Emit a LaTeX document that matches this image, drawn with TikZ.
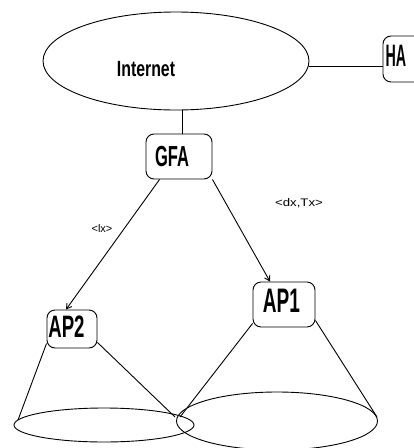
\documentclass[tikz,border=0pt]{standalone}
\usepackage{fontspec}
\setmainfont{Liberation Sans}
\usetikzlibrary{shapes.geometric,arrows.meta}
\newcommand{\bigtxt}[3]{\fontsize{#1}{#1}\selectfont\bfseries\scalebox{#2}[1]{#3}}
\begin{document}
\begin{tikzpicture}[x=1pt,y=-1pt,line width=0.9pt,
  box/.style={draw,rounded corners=8pt,inner sep=0pt},
  oval/.style={draw,ellipse,inner sep=0pt},
  txt/.style={inner sep=0pt,anchor=center},
  small/.style={inner sep=0pt,font=\fontsize{11}{11}\selectfont},
  arr/.style={-{Straight Barb[length=5pt,width=6pt]}}]
\useasboundingbox (0,0) rectangle (414,448);
% main nodes
\node[oval,minimum width=266pt,minimum height=98pt] (inet) at (176,61) {};
\node[txt] (inettext) at (146,69) {\bigtxt{22}{0.72}{Internet}};
\node[box,minimum width=50pt,minimum height=46pt] (ha) at (408,59) {};
\node[txt] (hatext) at (396,56) {\bigtxt{31}{0.46}{HA}};
\node[box,minimum width=66pt,minimum height=45pt] (gfa) at (179,156.5) {};
\node[txt] (gfatext) at (172,157) {\bigtxt{29}{0.57}{GFA}};
\node[box,minimum width=50pt,minimum height=38pt] (ap2) at (72,329) {};
\node[txt] (ap2text) at (66.5,327) {\bigtxt{31}{0.6}{AP2}};
\node[box,minimum width=62pt,minimum height=45pt] (ap1) at (284,304.5) {};
\node[txt] (ap1text) at (281.5,301) {\bigtxt{34}{0.56}{AP1}};
% coverage ellipses
\node[oval,minimum width=180pt,minimum height=34pt] (cov2) at (104,425) {};
\node[oval,minimum width=201pt,minimum height=58pt] (cov1) at (277,421) {};
% labels
\node[small] (lx) at (102,228.5) {\scalebox{1.0}[1]{<lx>}};
\node[small] (dx) at (299,203.5) {\scalebox{1.2}[1]{<dx,Tx>}};
% connectors
\draw ([yshift=-5pt]inet.east) -- ([yshift=-5pt]inet.east -| ha.west);
\draw ([xshift=3pt]gfa.north) -- ([xshift=3pt]gfa.north |- inet.south);
\draw[arr] ([xshift=14pt]gfa.south west) -- ([xshift=-6pt]ap2.north);
\draw[arr] (gfa.south east) -- ([xshift=-14pt]ap1.north);
% cones
\coordinate (c2l) at (18,420);
\coordinate (c2r) at (175,417);
\coordinate (c1l) at (180,417);
\coordinate (c1r) at (377,417);
\draw ([yshift=5pt]ap2.south west) -- (c2l);
\draw ([yshift=6pt]ap2.south east) -- (c2r);
\draw ([yshift=4pt]ap1.south west) -- (c1l);
\draw ([yshift=7pt]ap1.south east) -- (c1r);
\end{tikzpicture}
\end{document}
